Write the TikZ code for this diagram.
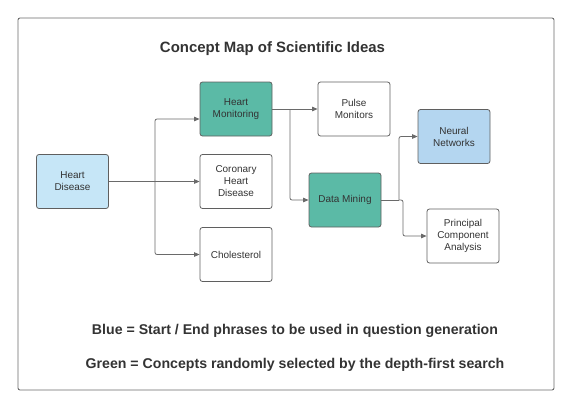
\documentclass[tikz,border=0pt]{standalone}
\usepackage{fontspec}
\setmainfont{Liberation Sans}
\usetikzlibrary{arrows.meta}
\definecolor{linegray}{HTML}{6A6A6A}
\definecolor{textgray}{HTML}{333333}
\definecolor{startblue}{HTML}{C6E6F7}
\definecolor{endblue}{HTML}{B4D6F0}
\definecolor{dfsgreen}{HTML}{5BBAA6}
\tikzset{
	concept/.style={draw=linegray!90!black, line width=0.8pt, rounded corners=2.5pt,
		minimum width=72bp, minimum height=54bp, align=center, text=textgray,
		font=\fontsize{10}{12}\selectfont, inner sep=1pt},
	link/.style={draw=linegray, line width=0.8pt, rounded corners=2pt,
		-{Triangle[length=5.5pt,width=4.5pt]}}
}
\begin{document}
\begin{tikzpicture}[x=1bp,y=-1bp]
	\useasboundingbox (0,0) rectangle (572,409);
	\draw[linegray, line width=0.9pt, rounded corners=2pt] (18,18) rectangle (554,390);
	\node[text=textgray, font=\fontsize{15}{18}\bfseries] (title) at (272.5,48.5) {Concept Map of Scientific Ideas};
	% concepts
	\node[concept, fill=startblue] (hd) at (72.5,181.5) {Heart\\Disease};
	\node[concept, fill=dfsgreen] (hm) at (236,109) {Heart\\Monitoring};
	\node[concept] (chd) at (236,181.5) {Coronary\\Heart\\Disease};
	\node[concept] (chol) at (236,254.5) {Cholesterol};
	\node[concept] (pm) at (354,109) {Pulse\\Monitors};
	\node[concept, fill=dfsgreen] (dm) at (345,200) {Data Mining};
	\node[concept, fill=endblue] (nn) at (454,136.5) {Neural\\Networks};
	\node[concept] (pca) at (463,236) {Principal\\Component\\Analysis};
	% links
	\coordinate (hdsplit) at (155,181.5);
	\coordinate (hmsplit) at (290,109);
	\coordinate (dmsplit) at (399,200);
	\draw[draw=linegray, line width=0.8pt] (hd.east) -- (hdsplit);
	\draw[link] (hdsplit) |- ([yshift=-10bp]hm.west);
	\draw[link] (hdsplit) -- (chd.west);
	\draw[link] (hdsplit) |- (chol.west);
	\draw[link] (hm.east) -- (pm.west);
	\draw[link] (hmsplit) |- (dm.west);
	\draw[draw=linegray, line width=0.8pt] (dm.east) -- (dmsplit);
	\draw[link] (dmsplit) |- (nn.west);
	\draw[link] (dmsplit) -- ++(4,0) |- (pca.west);
	% legend
	\node[text=textgray, font=\fontsize{14.2}{17}\bfseries] (blue) at (295,331) {Blue = Start / End phrases to be used in question generation};
	\node[text=textgray, font=\fontsize{14.2}{17}\bfseries] (green) at (295,365) {Green = Concepts randomly selected by the depth-first search};
\end{tikzpicture}
\end{document}
